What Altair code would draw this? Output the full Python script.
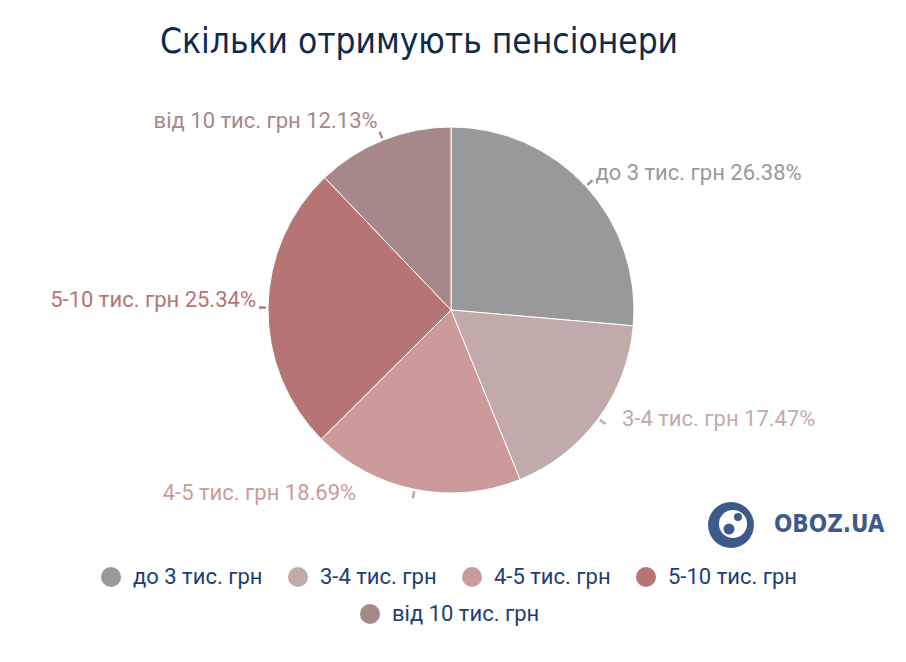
import altair as alt
import pandas as pd

categories = ["до 3 тис. грн", "3-4 тис. грн", "4-5 тис. грн", "5-10 тис. грн", "від 10 тис. грн"]
shares = [26.38, 17.47, 18.69, 25.34, 12.13]
colors = ["#999999", "#c1abaa", "#cc9a9a", "#b77474", "#a88788"]
labels = [f"{c} {v:.2f}%" for c, v in zip(categories, shares)]

TOTAL = sum(shares)
CX, CY, R = 451, 310, 183
LABEL_R = 200
NAVY = "#1d3d78"
FS = 22

df = pd.DataFrame({
    "category": categories,
    "share": shares,
    "order": list(range(len(categories))),
    "label": labels,
})

theta_scale = alt.Scale(domain=[0, TOTAL])
color_scale = alt.Scale(domain=categories, range=colors)

arcs = alt.Chart(df).mark_arc(outerRadius=R, stroke="white", strokeWidth=1).encode(
    theta=alt.Theta("share:Q", stack=True, scale=theta_scale),
    order=alt.Order("order:Q"),
    color=alt.Color(
        "category:N",
        scale=color_scale,
        legend=alt.Legend(
            values=categories[:4], orient="none", legendX=100, legendY=566,
            direction="horizontal", columns=4, title=None,
            symbolType="circle", symbolSize=400, symbolStrokeWidth=0,
            labelFont="Roboto", labelFontSize=FS, labelColor=NAVY,
            labelOffset=11, columnPadding=24, padding=0,
        ),
    ),
    x=alt.value(CX),
    y=alt.value(CY),
)

stacked = alt.Chart(df).transform_window(
    cum="sum(share)", sort=[alt.SortField("order")], frame=[None, 0]
).transform_calculate(
    mid="datum.cum - datum.share / 2",
    lo="datum.cum - datum.share / 2 - 0.1",
    hi="datum.cum - datum.share / 2 + 0.1",
)

# short leader ticks just outside the pie
leaders = stacked.mark_arc(innerRadius=R + 2, outerRadius=R + 9).encode(
    theta=alt.Theta("lo:Q", stack=None, scale=theta_scale),
    theta2="hi:Q",
    color=alt.Color("category:N", scale=color_scale, legend=None),
    x=alt.value(CX),
    y=alt.value(CY),
)

# per-label placement tweaks (align, dx, dy)
label_style = [
    ("left", -3, -2),
    ("left", 10, -10),
    ("right", -55, -13),
    ("right", 5, -7),
    ("right", 1, -3),
]

text_layers = []
for cat, (al, dx, dy) in zip(categories, label_style):
    text_layers.append(
        stacked.transform_filter(alt.datum.category == cat)
        .mark_text(align=al, baseline="middle", dx=dx, dy=dy, font="Roboto", fontSize=FS)
        .encode(
            theta=alt.Theta("mid:Q", stack=None, scale=theta_scale),
            radius=alt.value(LABEL_R),
            text="label:N",
            color=alt.Color("category:N", scale=color_scale, legend=None),
            x=alt.value(CX),
            y=alt.value(CY),
        )
    )

legend2 = alt.Chart(df).transform_filter(alt.datum.category == categories[4]).mark_point(
    filled=True, opacity=0
).encode(
    color=alt.Color(
        "category:N",
        scale=alt.Scale(domain=[categories[4]], range=[colors[4]]),
        legend=alt.Legend(
            orient="none", legendX=359, legendY=603, title=None,
            symbolType="circle", symbolSize=400, symbolStrokeWidth=0, symbolOpacity=1,
            labelFont="Roboto", labelFontSize=FS, labelColor=NAVY,
            labelOffset=11, padding=0,
        ),
    ),
    x=alt.value(CX),
    y=alt.value(CY),
)

one = alt.Chart(pd.DataFrame({"k": [0]}))
LOGO = "#3e5a8b"
logo_disc = one.mark_circle(size=46 * 46, color=LOGO, opacity=1).encode(x=alt.value(731), y=alt.value(525))
logo_globe = one.mark_circle(size=28 * 28, color="white", opacity=1).encode(x=alt.value(733), y=alt.value(524))
logo_land1 = one.mark_circle(size=11 * 11, color=LOGO, opacity=1).encode(x=alt.value(729), y=alt.value(529))
logo_land2 = one.mark_circle(size=8 * 8, color=LOGO, opacity=1).encode(x=alt.value(738), y=alt.value(517))
logo_text = one.mark_text(
    text="OBOZ.UA", align="left", baseline="middle", font="DejaVu Sans Condensed, DejaVu Sans",
    fontWeight="bold", fontSize=24, color=LOGO,
).encode(x=alt.value(774), y=alt.value(525))

chart = alt.layer(
    arcs, leaders, *text_layers, legend2, logo_disc, logo_globe, logo_land1, logo_land2, logo_text
).resolve_scale(color="independent").properties(
    width=906,
    height=662,
    padding=0,
    autosize=alt.AutoSizeParams(type="none"),
    title=alt.TitleParams(
        "Скільки отримують пенсіонери",
        font="DejaVu Sans Condensed, DejaVu Sans", fontSize=35, fontWeight="normal",
        color="#0f2a4a", anchor="start", frame="group", dx=160, dy=60, offset=0,
    ),
).configure_view(stroke=None)

chart.save("out.html", embed_options={"renderer": "svg", "actions": False})
